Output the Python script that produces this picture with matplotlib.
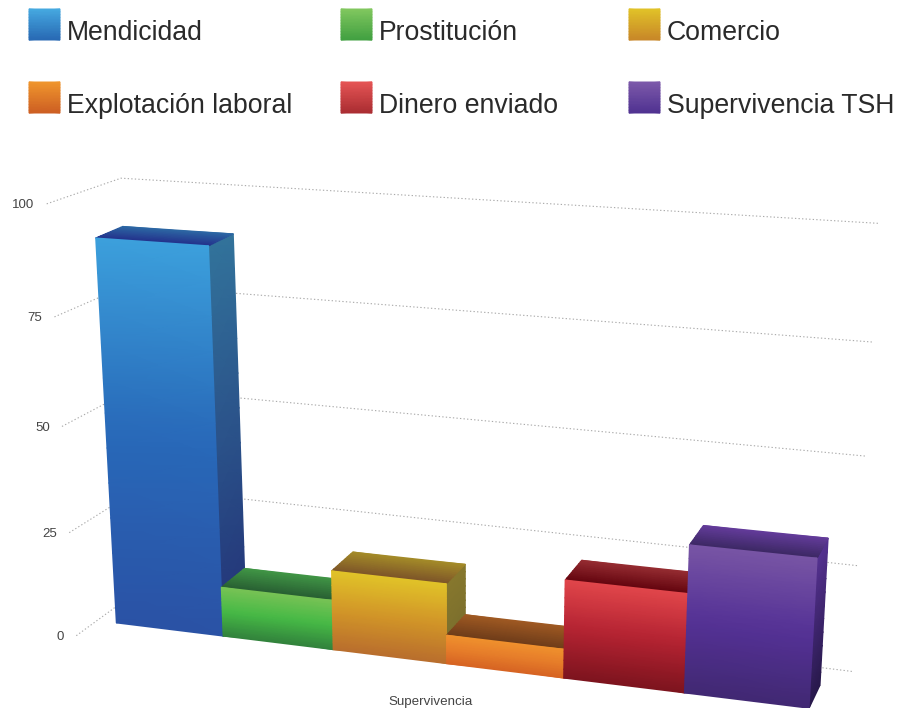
import numpy as np
import matplotlib
matplotlib.use('Agg')
import matplotlib.pyplot as plt
from matplotlib.colors import LinearSegmentedColormap

plt.rcParams['font.family'] = ['Liberation Sans', 'DejaVu Sans']

categories = ['Mendicidad', 'Prostitución', 'Comercio', 'Explotación laboral', 'Dinero enviado', 'Supervivencia TSH']
values = [92, 12.1, 19.2, 6.9, 23.2, 34.3]
ticks = [0, 25, 50, 75, 100]
group_label = 'Supervivencia'

front_cols = [['#3ca0dc', '#2869b9', '#2a52a5'], ['#78c355', '#46b946', '#32823c'],
              ['#e1c328', '#d29628', '#b96e2d'], ['#f0912d', '#e67d2a', '#d76423'],
              ['#e1464b', '#b42332', '#7d141e'], ['#7855a5', '#553296', '#412873']]
top_cols = [['#2d69a5', '#23328c'], ['#419646', '#285f32'], ['#a58c28', '#7d5528'],
            ['#a05a23', '#6e3c19'], ['#962d32', '#64050f'], ['#643c9b', '#3c2864']]
side_cols = [['#32739b', '#233278'], ['#2f7a3c', '#1f4f2a'], ['#87782d', '#786c2d'],
             ['#8a4f20', '#6e3c19'], ['#7d2028', '#5a0f14'], ['#553291', '#28194b']]
swatch_cols = [['#46aae1', '#2869b4'], ['#82c85f', '#41a041'], ['#e1c328', '#c88728'],
               ['#f0962d', '#cd5f23'], ['#e65555', '#aa2d32'], ['#7d5aaa', '#503291']]

# 3d view: (slot, value, depth) -> picture
view = np.array([[103.490563, -0.282401, 28.177741, 116.30276],
                 [3.744124, -4.329217, -5.894039, 622.955687],
                 [-0.014801, -0.000607, 0.022163, 1.0]])


def project(x, v, z):
    p = view @ np.array([x, v, z, 1.0])
    return p[:2] / p[2]


def wall_map(anchors):
    # plane of a wall: s 0..1 along it, value upwards
    A, b = [], []
    for s, v, u, w in anchors:
        A.append([s, v, 1, 0, 0, 0, -u*s, -u*v])
        b.append(u)
        A.append([0, 0, 0, s, v, 1, -w*s, -w*v])
        b.append(w)
    sol = np.linalg.lstsq(np.array(A, float), np.array(b, float), rcond=None)[0]
    return np.append(sol, 1).reshape(3, 3)


def on_wall(m, s, v):
    p = m @ np.array([s, v, 1.0])
    return p[:2] / p[2]


def gradient_face(ax, corners, stops, n=12):
    # corners: start-left, start-right, end-right, end-left
    cmap = LinearSegmentedColormap.from_list('f', stops)
    a, b, c, d = [np.array(p, float) for p in corners]
    t = np.linspace(0, 1, n)[:, None]
    left = a + (d - a) * t
    right = b + (c - b) * t
    X = np.column_stack([left[:, 0], right[:, 0]])
    Y = np.column_stack([left[:, 1], right[:, 1]])
    C = np.column_stack([t[:, 0], t[:, 0]])
    ax.pcolormesh(X, Y, C, shading='gouraud', cmap=cmap, vmin=0, vmax=1, zorder=3)


fig = plt.figure(figsize=(9.17, 7.08), dpi=100)
ax = fig.add_axes([0, 0, 1, 1])

back_wall = wall_map([(0, 0, 146, 584), (1, 0, 852, 672), (1, 100, 880, 224), (0, 100, 120, 178),
                      (0, 50, 136, 388.6), (1, 50, 866, 455)])
left_wall = wall_map([(0, 0, 146, 584), (1, 0, 75, 636), (1, 100, 48, 204), (0, 100, 120, 178),
                      (0, 50, 136, 388.6), (1, 50, 62, 426)])

for t in ticks:
    start = on_wall(left_wall, 1, t)
    corner = on_wall(back_wall, 0, t)
    end = on_wall(back_wall, 1, t)
    pts = np.array([start, corner, end])
    ax.plot(pts[:, 0], pts[:, 1], color='#aaaaaa', lw=0.8, ls=(0, (1.2, 2)), zorder=1)
    ax.text(start[0] - 12, start[1] + 1.5, str(t), ha='right', va='center', fontsize=9.5, color='#444444')

for i, val in enumerate(values):
    x0, x1 = i, i + 1
    gradient_face(ax, [project(x1, val, 0), project(x1, val, 1), project(x1, 0, 1), project(x1, 0, 0)], side_cols[i])
    gradient_face(ax, [project(x0, val, 1), project(x1, val, 1), project(x1, val, 0), project(x0, val, 0)], top_cols[i])
    gradient_face(ax, [project(x0, val, 0), project(x1, val, 0), project(x1, 0, 0), project(x0, 0, 0)], front_cols[i])

ax.text(431, 702, group_label, ha='center', va='center', fontsize=9.6, color='#444444')

# legend
leg_x = [29, 341, 629]
leg_y = [9, 82]
for i, name in enumerate(categories):
    lx, ly = leg_x[i % 3], leg_y[i // 3]
    gradient_face(ax, [(lx, ly), (lx + 31, ly), (lx + 31, ly + 31), (lx, ly + 31)], swatch_cols[i])
    ax.text(lx + 38, ly + 31, name, ha='left', va='baseline', fontsize=19.2, color='#2a2a2a')

ax.set_xlim(0, 917)
ax.set_ylim(708, 0)
ax.axis('off')

fig.savefig('out.png', dpi=100)
